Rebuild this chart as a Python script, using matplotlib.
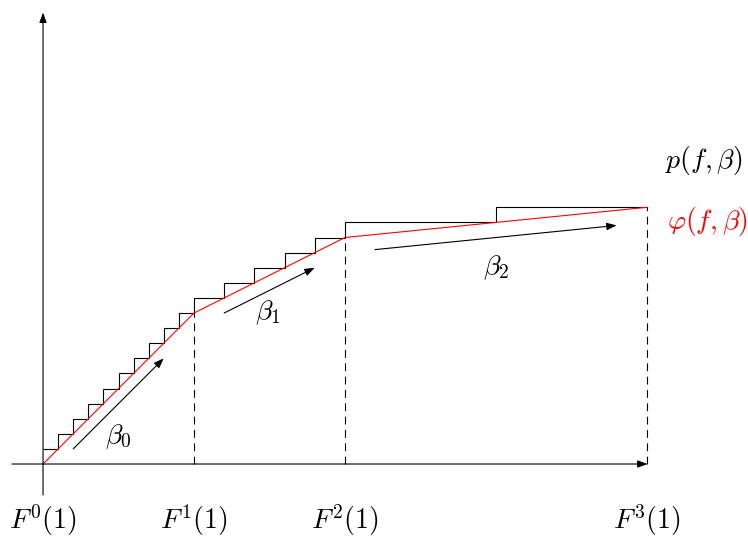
#!/usr/bin/env python3
"""Piecewise-linear envelope phi(f, beta) over the staircase p(f, beta)."""

import matplotlib
matplotlib.use("Agg")
import matplotlib.pyplot as plt

plt.rcParams["mathtext.fontset"] = "cm"
FS = 20

# staircase p(f, beta): bin edges and step levels
stair_edges = [0, 1, 2, 3, 4, 5, 6, 7, 8, 9, 10, 12, 14, 16, 18, 20, 30, 40]
stair_levels = [1, 2, 3, 4, 5, 6, 7, 8, 9, 10, 11, 12, 13, 14, 15, 16, 17]

# red envelope phi(f, beta): breakpoints F^k(1)
phi_x = [0, 10, 20, 40]
phi_y = [0, 10, 15, 17]
tick_labels = [r"$F^0(1)$", r"$F^1(1)$", r"$F^2(1)$", r"$F^3(1)$"]

# slope arrows (start, end) and their labels
slope_arrows = [((2, 1), (8, 7)), ((12, 10), (18, 13)), ((22, 14.2), (38, 15.8))]
slope_labels = [r"$\beta_0$", r"$\beta_1$", r"$\beta_2$"]
slope_label_pos = [(5, 1.8), (14.9, 10.0), (30, 13.0)]


def main() -> None:
    fig = plt.figure(figsize=(7.48, 5.38), dpi=100)
    ax = fig.add_axes([0, 0, 1, 1])
    ax.set_xlim(-2.85, 46.7)
    ax.set_ylim(-4.9, 30.73)
    ax.axis("off")

    head = dict(arrowstyle="-|>,head_length=0.6,head_width=0.22",
                color="black", lw=0.8, shrinkA=0, shrinkB=0)

    # axes with arrowheads
    ax.annotate("", xy=(40.05, 0), xytext=(-2.06, 0), arrowprops=head)
    ax.annotate("", xy=(0, 29.9), xytext=(0, -2.05), arrowprops=head)

    # staircase
    ax.stairs(stair_levels, stair_edges, baseline=None, color="black", lw=0.8)

    # envelope
    ax.plot(phi_x, phi_y, color="red", lw=0.8)

    # dashed drop lines at breakpoints
    for x, y in zip(phi_x[1:], phi_y[1:]):
        ax.plot([x, x], [0, y], color="black", lw=0.8, ls=(0, (7, 5)))

    # slope arrows
    for (start, end), lab, pos in zip(slope_arrows, slope_labels, slope_label_pos):
        ax.annotate("", xy=end, xytext=start, arrowprops=head)
        ax.text(pos[0], pos[1], lab, fontsize=FS, ha="center", va="center")

    # F^k(1) labels
    for x, lab in zip(phi_x, tick_labels):
        ax.text(x, -3.72, lab, fontsize=FS, ha="center", va="center")

    ax.text(43.75, 20.1, r"$p(f,\beta)$", fontsize=FS, ha="center", va="center")
    ax.text(44.0, 16.05, r"$\varphi(f,\beta)$", fontsize=FS, ha="center",
            va="center", color="red")

    fig.savefig("out.png", dpi=100)
    plt.close(fig)


if __name__ == "__main__":
    main()
